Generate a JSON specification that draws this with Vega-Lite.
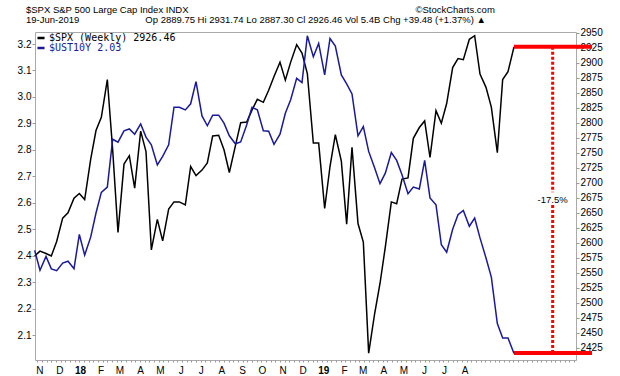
{
  "$schema": "https://vega.github.io/schema/vega-lite/v6.json",
  "width": 541,
  "height": 328,
  "autosize": {"type": "none"},
  "padding": {"left": 35, "top": 32, "right": 44, "bottom": 16},
  "background": "white",
  "title": {
    "text": "$SPX S&P 500 Large Cap Index INDX\u00a0\u00a0\u00a0\u00a0\u00a0\u00a0\u00a0\u00a0\u00a0\u00a0\u00a0\u00a0\u00a0\u00a0\u00a0\u00a0\u00a0\u00a0\u00a0\u00a0\u00a0\u00a0\u00a0\u00a0\u00a0\u00a0\u00a0\u00a0\u00a0\u00a0\u00a0\u00a0\u00a0\u00a0\u00a0\u00a0\u00a0\u00a0\u00a0\u00a0\u00a0\u00a0\u00a0\u00a0\u00a0\u00a0\u00a0\u00a0\u00a0\u00a0\u00a0\u00a0\u00a0\u00a0\u00a0\u00a0\u00a0\u00a0\u00a0\u00a0\u00a0\u00a0\u00a0\u00a0\u00a0\u00a0\u00a0\u00a0\u00a0\u00a0\u00a0\u00a0\u00a0\u00a0\u00a0\u00a0\u00a0\u00a0\u00a0\u00a0\u00a0\u00a0\u00a0\u00a0\u00a0\u00a0\u00a9StockCharts.com",
    "subtitle": "19-Jun-2019\u00a0\u00a0\u00a0\u00a0\u00a0\u00a0\u00a0\u00a0\u00a0\u00a0\u00a0\u00a0\u00a0\u00a0\u00a0\u00a0\u00a0\u00a0\u00a0\u00a0\u00a0\u00a0\u00a0\u00a0\u00a0Op 2889.75 Hi 2931.74 Lo 2887.30 Cl 2926.46 Vol 5.4B Chg +39.48 (+1.37%) \u25b2",
    "anchor": "start",
    "frame": "group",
    "dx": -9,
    "offset": 3,
    "font": "Liberation Sans",
    "fontSize": 9.5,
    "fontWeight": "normal",
    "color": "#000000",
    "subtitleFont": "Liberation Sans",
    "subtitleFontSize": 9.5,
    "subtitleColor": "#000000",
    "subtitlePadding": 1
  },
  "datasets": {
    "weekly": [
      {"date": "2017-10-25", "spx": 2578, "ust": 2.42},
      {"date": "2017-11-02", "spx": 2586, "ust": 2.345},
      {"date": "2017-11-11", "spx": 2582, "ust": 2.397},
      {"date": "2017-11-19", "spx": 2578, "ust": 2.35},
      {"date": "2017-11-27", "spx": 2602, "ust": 2.343},
      {"date": "2017-12-06", "spx": 2641, "ust": 2.372},
      {"date": "2017-12-14", "spx": 2650, "ust": 2.379},
      {"date": "2017-12-23", "spx": 2674, "ust": 2.351},
      {"date": "2017-12-31", "spx": 2682, "ust": 2.48},
      {"date": "2018-01-08", "spx": 2672, "ust": 2.402},
      {"date": "2018-01-17", "spx": 2739, "ust": 2.47},
      {"date": "2018-01-25", "spx": 2787, "ust": 2.561},
      {"date": "2018-02-02", "spx": 2809, "ust": 2.639},
      {"date": "2018-02-11", "spx": 2872, "ust": 2.659},
      {"date": "2018-02-19", "spx": 2755, "ust": 2.84},
      {"date": "2018-02-27", "spx": 2617, "ust": 2.829},
      {"date": "2018-03-08", "spx": 2731, "ust": 2.872},
      {"date": "2018-03-16", "spx": 2745, "ust": 2.879},
      {"date": "2018-03-24", "spx": 2691, "ust": 2.859},
      {"date": "2018-04-02", "spx": 2786, "ust": 2.898},
      {"date": "2018-04-10", "spx": 2752, "ust": 2.848},
      {"date": "2018-04-18", "spx": 2588, "ust": 2.819},
      {"date": "2018-04-27", "spx": 2639, "ust": 2.743},
      {"date": "2018-05-05", "spx": 2603, "ust": 2.775},
      {"date": "2018-05-14", "spx": 2656, "ust": 2.819},
      {"date": "2018-05-22", "spx": 2668, "ust": 2.961},
      {"date": "2018-05-30", "spx": 2668, "ust": 2.961},
      {"date": "2018-06-08", "spx": 2663, "ust": 2.951},
      {"date": "2018-06-16", "spx": 2727, "ust": 2.974},
      {"date": "2018-06-24", "spx": 2712, "ust": 3.058},
      {"date": "2018-07-03", "spx": 2721, "ust": 2.928},
      {"date": "2018-07-11", "spx": 2733, "ust": 2.891},
      {"date": "2018-07-19", "spx": 2778, "ust": 2.931},
      {"date": "2018-07-28", "spx": 2779, "ust": 2.931},
      {"date": "2018-08-05", "spx": 2755, "ust": 2.901},
      {"date": "2018-08-13", "spx": 2717, "ust": 2.853},
      {"date": "2018-08-22", "spx": 2761, "ust": 2.823},
      {"date": "2018-08-30", "spx": 2800, "ust": 2.83},
      {"date": "2018-09-08", "spx": 2801, "ust": 2.894},
      {"date": "2018-09-16", "spx": 2821, "ust": 2.961},
      {"date": "2018-09-24", "spx": 2839, "ust": 2.951},
      {"date": "2018-10-03", "spx": 2834, "ust": 2.872},
      {"date": "2018-10-11", "spx": 2854, "ust": 2.87},
      {"date": "2018-10-19", "spx": 2877, "ust": 2.821},
      {"date": "2018-10-28", "spx": 2901, "ust": 2.859},
      {"date": "2018-11-05", "spx": 2871, "ust": 2.938},
      {"date": "2018-11-13", "spx": 2901, "ust": 2.989},
      {"date": "2018-11-22", "spx": 2930, "ust": 3.07},
      {"date": "2018-11-30", "spx": 2916, "ust": 3.054},
      {"date": "2018-12-08", "spx": 2882, "ust": 3.231},
      {"date": "2018-12-17", "spx": 2766, "ust": 3.152},
      {"date": "2018-12-25", "spx": 2766, "ust": 3.202},
      {"date": "2019-01-03", "spx": 2657, "ust": 3.083},
      {"date": "2019-01-11", "spx": 2727, "ust": 3.221},
      {"date": "2019-01-19", "spx": 2780, "ust": 3.192},
      {"date": "2019-01-28", "spx": 2736, "ust": 3.083},
      {"date": "2019-02-05", "spx": 2631, "ust": 3.049},
      {"date": "2019-02-13", "spx": 2759, "ust": 3.011},
      {"date": "2019-02-22", "spx": 2632, "ust": 2.853},
      {"date": "2019-03-02", "spx": 2601, "ust": 2.888},
      {"date": "2019-03-10", "spx": 2416, "ust": 2.794},
      {"date": "2019-03-19", "spx": 2482, "ust": 2.731},
      {"date": "2019-03-27", "spx": 2532, "ust": 2.672},
      {"date": "2019-04-04", "spx": 2593, "ust": 2.712},
      {"date": "2019-04-13", "spx": 2668, "ust": 2.79},
      {"date": "2019-04-21", "spx": 2665, "ust": 2.76},
      {"date": "2019-04-29", "spx": 2706, "ust": 2.706},
      {"date": "2019-05-08", "spx": 2708, "ust": 2.634},
      {"date": "2019-05-16", "spx": 2774, "ust": 2.659},
      {"date": "2019-05-25", "spx": 2792, "ust": 2.652},
      {"date": "2019-06-02", "spx": 2803, "ust": 2.76},
      {"date": "2019-06-10", "spx": 2742, "ust": 2.618},
      {"date": "2019-06-19", "spx": 2820, "ust": 2.592},
      {"date": "2019-06-27", "spx": 2799, "ust": 2.441},
      {"date": "2019-07-05", "spx": 2832, "ust": 2.413},
      {"date": "2019-07-14", "spx": 2892, "ust": 2.5},
      {"date": "2019-07-22", "spx": 2907, "ust": 2.555},
      {"date": "2019-07-30", "spx": 2905, "ust": 2.571},
      {"date": "2019-08-08", "spx": 2939, "ust": 2.511},
      {"date": "2019-08-16", "spx": 2945, "ust": 2.542},
      {"date": "2019-08-24", "spx": 2881, "ust": 2.467},
      {"date": "2019-09-02", "spx": 2859, "ust": 2.391},
      {"date": "2019-09-10", "spx": 2826, "ust": 2.319},
      {"date": "2019-09-19", "spx": 2750, "ust": 2.143},
      {"date": "2019-09-27", "spx": 2872, "ust": 2.089},
      {"date": "2019-10-05", "spx": 2885, "ust": 2.089},
      {"date": "2019-10-14", "spx": 2926.46, "ust": 2.03}
    ],
    "levels": [
      {"start": "2019-10-14", "end": "2020-02-08", "level": 2926.46},
      {"start": "2019-10-14", "end": "2020-02-08", "level": 2416}
    ],
    "drop": [
      {"date": "2019-12-11", "from": 2926.46, "to": 2684},
      {"date": "2019-12-11", "from": 2663, "to": 2416}
    ],
    "change": [
      {"date": "2019-12-11", "level": 2672, "label": "-17.5%"}
    ]
  },
  "layer": [
    {
      "resolve": {"axis": {"x": "independent", "y": "independent"}},
      "layer": [
        {
          "data": {"name": "weekly"},
          "mark": {"type": "line", "strokeWidth": 1.5},
          "encoding": {
            "x": {
              "field": "date", "type": "temporal", "title": null,
              "scale": {"type": "utc", "domain": [{"year": 2017, "month": 10, "date": 25, "hours": 12, "utc": true}, {"year": 2020, "month": 1, "date": 15, "utc": true}]},
              "axis": {
                "orient": "bottom",
                "tickCount": {"interval": "month", "step": 1},
                "ticks": false,
                "domain": false,
                "grid": false,
                "labelPadding": 5,
                "labelFlush": false,
                "labelOverlap": false,
                "labelBound": false,
                "labelFont": "Liberation Sans",
                "labelFontSize": 10,
                "labelColor": "#000000",
                "labelFontWeight": {"condition": {"test": "utcmonth(datum.value) == 0", "value": "bold"}, "value": "normal"},
                "labelExpr": "datum.value > utc(2019, 7, 15) ? '' : (utcmonth(datum.value) == 0 ? utcFormat(datum.value, '%y') : slice(utcFormat(datum.value, '%b'), 0, 1))"
              }
            },
            "y": {
              "field": "spx", "type": "quantitative", "title": null,
              "scale": {"domain": [2404.5, 2951.2], "nice": false, "zero": false},
              "axis": {
                "orient": "right",
                "values": [2425, 2450, 2475, 2500, 2525, 2550, 2575, 2600, 2625, 2650, 2675, 2700, 2725, 2750, 2775, 2800, 2825, 2850, 2875, 2900, 2925, 2950],
                "format": "d",
                "domain": false,
                "grid": false,
                "tickSize": 3,
                "tickColor": "#999999",
                "labelPadding": 1,
                "labelFont": "Liberation Sans",
                "labelFontSize": 10,
                "labelColor": "#000000",
                "labelOverlap": false
              }
            },
            "color": {"datum": "$SPX (Weekly) 2926.46", "type": "nominal"}
          }
        },
        {
          "data": {"name": "levels"},
          "mark": {"type": "rule", "color": "#ff0000", "strokeWidth": 4, "clip": false},
          "encoding": {
            "x": {"field": "start", "type": "temporal", "axis": null, "scale": {"type": "utc", "domain": [{"year": 2017, "month": 10, "date": 25, "hours": 12, "utc": true}, {"year": 2020, "month": 1, "date": 15, "utc": true}]}},
            "x2": {"field": "end"},
            "y": {"field": "level", "type": "quantitative", "axis": null, "scale": {"domain": [2404.5, 2951.2], "nice": false, "zero": false}}
          }
        },
        {
          "data": {"name": "drop"},
          "mark": {"type": "rule", "color": "#ff0000", "strokeWidth": 3, "strokeDash": [3, 2], "clip": false},
          "encoding": {
            "x": {"field": "date", "type": "temporal", "axis": null, "scale": {"type": "utc", "domain": [{"year": 2017, "month": 10, "date": 25, "hours": 12, "utc": true}, {"year": 2020, "month": 1, "date": 15, "utc": true}]}},
            "y": {"field": "from", "type": "quantitative", "axis": null, "scale": {"domain": [2404.5, 2951.2], "nice": false, "zero": false}},
            "y2": {"field": "to"}
          }
        },
        {
          "data": {"name": "change"},
          "mark": {"type": "text", "font": "Liberation Sans", "fontSize": 9.5, "color": "#000000", "align": "center", "baseline": "middle", "clip": false},
          "encoding": {
            "x": {"field": "date", "type": "temporal", "axis": null, "scale": {"type": "utc", "domain": [{"year": 2017, "month": 10, "date": 25, "hours": 12, "utc": true}, {"year": 2020, "month": 1, "date": 15, "utc": true}]}},
            "y": {"field": "level", "type": "quantitative", "axis": null, "scale": {"domain": [2404.5, 2951.2], "nice": false, "zero": false}},
            "text": {"field": "label"}
          }
        }
      ]
    },
    {
      "data": {"name": "weekly"},
      "mark": {"type": "line", "strokeWidth": 1.5},
      "encoding": {
        "x": {
          "field": "date", "type": "temporal", "title": null,
          "scale": {"type": "utc", "domain": [{"year": 2017, "month": 10, "date": 25, "hours": 12, "utc": true}, {"year": 2020, "month": 1, "date": 15, "utc": true}]},
          "axis": {
            "orient": "bottom",
            "tickCount": {"interval": "week", "step": 1},
            "labels": false,
            "domain": false,
            "grid": false,
            "ticks": true,
            "tickSize": 2,
            "tickColor": "#999999"
          }
        },
        "y": {
          "field": "ust", "type": "quantitative", "title": null,
          "scale": {"domain": [2.0055, 3.2454], "nice": false, "zero": false},
          "axis": {
            "orient": "left",
            "values": [2.1, 2.2, 2.3, 2.4, 2.5, 2.6, 2.7, 2.8, 2.9, 3.0, 3.1, 3.2],
            "format": ".1f",
            "domain": false,
            "grid": false,
            "tickSize": 3,
            "tickColor": "#999999",
            "labelPadding": 1,
            "labelFont": "Liberation Sans",
            "labelFontSize": 10,
            "labelColor": "#000000",
            "labelOverlap": false
          }
        },
        "color": {
          "datum": "$UST10Y 2.03", "type": "nominal",
          "scale": {"domain": ["$SPX (Weekly) 2926.46", "$UST10Y 2.03"], "range": ["#000000", "#1a1a99"]},
          "legend": {
            "title": null,
            "orient": "top-left",
            "offset": 1,
            "padding": 0,
            "rowPadding": 0,
            "symbolType": "stroke",
            "symbolSize": 50,
            "symbolStrokeWidth": 2.5,
            "labelOffset": 3,
            "labelFont": "DejaVu Sans Mono",
            "labelFontSize": 10,
            "labelColor": {"expr": "datum.value == '$UST10Y 2.03' ? '#1a1a99' : '#000000'"}
          }
        }
      }
    }
  ],
  "resolve": {"scale": {"y": "independent"}, "axis": {"x": "independent"}},
  "config": {
    "font": "Liberation Sans",
    "view": {"stroke": "#aaaaaa", "strokeWidth": 1}
  }
}
